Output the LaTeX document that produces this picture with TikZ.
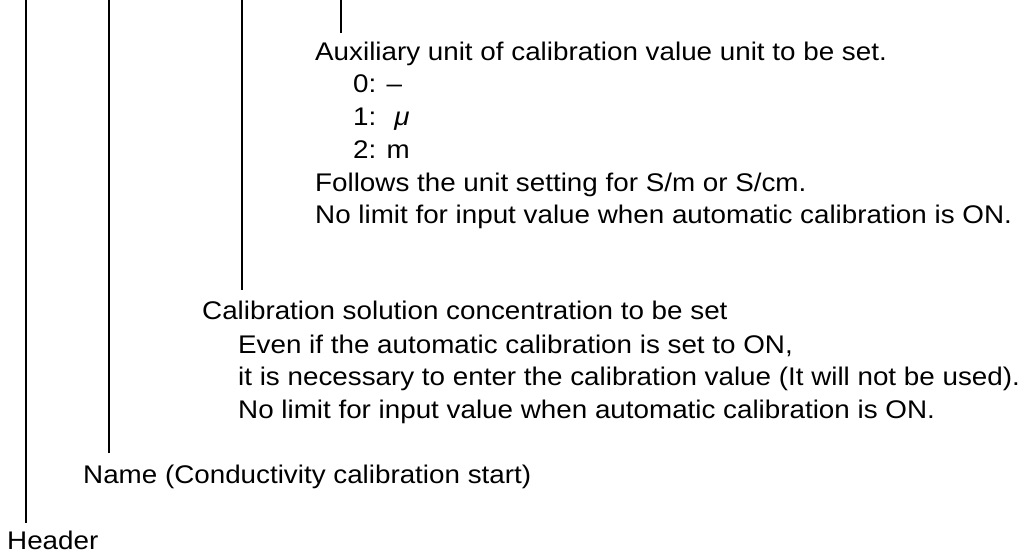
\documentclass[tikz,border=0pt]{standalone}
\usepackage{fontspec}
\setmainfont{Liberation Sans}[FakeStretch=1.09]
\begin{document}
\begin{tikzpicture}[x=1pt,y=-1pt,
  txt/.style={anchor=base west, inner sep=0pt, font=\fontsize{25.5}{30}\selectfont},
  lead/.style={line width=1.2pt}]
\useasboundingbox (0,0) rectangle (1032,555);
% text
\node[txt] (aux)  at (315,60)  {Auxiliary unit of calibration value unit to be set.};
\node[txt] (u0)   at (353,92)  {0: –};
\node[txt] (u1)   at (353,125) {1: \ {\itshape μ}};
\node[txt] (u2)   at (353,158) {2: m};
\node[txt] (fol)  at (315,191) {Follows the unit setting for S/m or S/cm.};
\node[txt] (nl1)  at (315,223) {No limit for input value when automatic calibration is ON.};
\node[txt] (cal)  at (202,319) {Calibration solution concentration to be set};
\node[txt] (even) at (238,353) {Even if the automatic calibration is set to ON,};
\node[txt] (nec)  at (238,385) {it is necessary to enter the calibration value (It will not be used).};
\node[txt] (nl2)  at (238,418) {No limit for input value when automatic calibration is ON.};
\node[txt] (name) at (83,483)  {Name (Conductivity calibration start)};
\node[txt] (head) at (7,549)   {Header};
% leader lines
\coordinate (h0) at (26,0);   \coordinate (h1) at (26,523);
\coordinate (n0) at (109,0);  \coordinate (n1) at (109,453);
\coordinate (c0) at (242,0);  \coordinate (c1) at (242,290);
\coordinate (x0) at (341,0);  \coordinate (x1) at (341,33);
\draw[lead] (h0) -- (h1);
\draw[lead] (n0) -- (n1);
\draw[lead] (c0) -- (c1);
\draw[lead] (x0) -- (x1);
\end{tikzpicture}
\end{document}
